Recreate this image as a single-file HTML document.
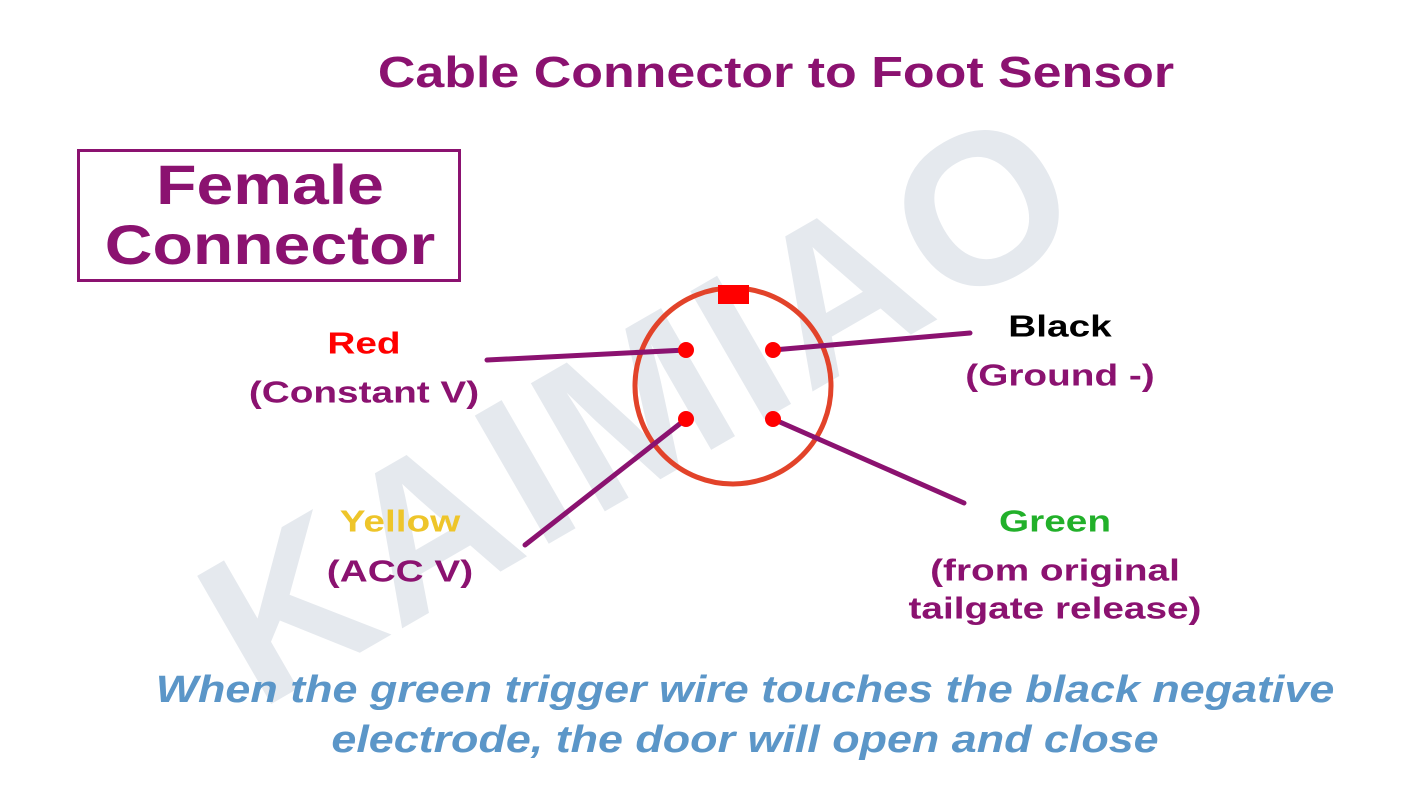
<!DOCTYPE html>
<html><head><meta charset="utf-8"><style>
body{margin:0;width:1417px;height:800px;background:#fff;overflow:hidden;position:relative;font-family:"Liberation Sans","DejaVu Sans",sans-serif;font-weight:bold}
.t{position:absolute;white-space:nowrap;transform:translate(-50%,-50%) scaleX(1.18);line-height:1}
.l{transform:translate(-50%,-50%) scaleX(1.25)}
.p{color:#8b1270}
</style></head><body>
<div class="t" style="left:640px;top:405px;font-size:215px;color:#e5e9ee;transform:translate(-50%,-50%) rotate(-30deg);letter-spacing:5px">KAIMIAO</div>
<div class="t p" style="left:776px;top:73px;font-size:44px">Cable Connector to Foot Sensor</div>
<div style="position:absolute;left:77px;top:149px;width:378px;height:127px;border:3px solid #8b1270"></div>
<div class="t p" style="left:270px;top:185px;font-size:56px">Female</div>
<div class="t p" style="left:270px;top:245px;font-size:56px">Connector</div>
<svg style="position:absolute;left:0;top:0" width="1417" height="800">
<circle cx="733" cy="386" r="98" fill="none" stroke="#e2432a" stroke-width="5"/>
<rect x="718" y="285" width="31" height="19" fill="#f00"/>
<g stroke="#8b1270" stroke-width="5" stroke-linecap="round">
<line x1="487" y1="360" x2="686" y2="350"/>
<line x1="773" y1="350" x2="970" y2="333"/>
<line x1="686" y1="419" x2="525" y2="545"/>
<line x1="773" y1="419" x2="964" y2="503"/>
</g>
<g fill="#f00"><circle cx="686" cy="350" r="8"/><circle cx="773" cy="350" r="8"/><circle cx="686" cy="419" r="8"/><circle cx="773" cy="419" r="8"/></g>
</svg>
<div class="t l" style="left:364px;top:343px;font-size:31px;color:#f00">Red</div>
<div class="t l p" style="left:364px;top:392px;font-size:31px">(Constant V)</div>
<div class="t l" style="left:1060px;top:326px;font-size:31px;color:#000">Black</div>
<div class="t l p" style="left:1060px;top:375px;font-size:31px">(Ground -)</div>
<div class="t l" style="left:400px;top:521px;font-size:31px;color:#eec52a">Yellow</div>
<div class="t l p" style="left:400px;top:571px;font-size:31px">(ACC V)</div>
<div class="t l" style="left:1055px;top:521px;font-size:31px;color:#22b02a">Green</div>
<div class="t l p" style="left:1055px;top:570px;font-size:31px">(from original</div>
<div class="t l p" style="left:1055px;top:608px;font-size:31px">tailgate release)</div>
<div class="t" style="left:745px;top:690px;font-size:38px;color:#5b96c8;font-style:italic">When the green trigger wire touches the black negative</div>
<div class="t" style="left:745px;top:740px;font-size:38px;color:#5b96c8;font-style:italic">electrode, the door will open and close</div>
</body></html>
